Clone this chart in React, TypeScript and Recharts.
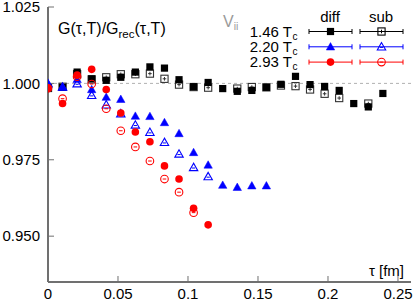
import React from 'react'
import { ScatterChart, Scatter, XAxis, YAxis, ReferenceLine, Legend } from 'recharts'

// Euclidean time points (fm)
const tau = [
  0, 0.0104, 0.0208, 0.0312, 0.0416, 0.052, 0.0624, 0.0728, 0.0832, 0.0936, 0.104, 0.1144,
  0.1248, 0.1352, 0.1456, 0.156, 0.1664, 0.1768, 0.1872, 0.1976, 0.208, 0.2184, 0.2288, 0.2392,
]

// G/G_rec, 1.46 Tc
const diff146 = [
  0.9985, 0.9987, 1.0037, 1.0015, 1.001, 1.002, 1.0037, 1.0054, 1.005, 1.0012, 0.9989, 1.0003,
  0.9983, 0.9974, 0.9977, 0.9987, 0.9997, 1.0023, 0.9996, 0.999, 0.9977, 0.9934, 0.9923, 0.9967,
]
const sub146 = [
  0.9985, 0.9989, 1.003, 1.0013, 1.002, 1.003, 1.003, 1.0032, 1.0015, 0.9996, 0.9988, 0.9986,
  null, 0.9983, 0.9988, 0.9987, 0.9993, 0.9991, 0.998, 0.9966, 0.9952, null, 0.9934, null,
]

// 2.20 Tc
const diff220 = [
  0.9999, 0.9988, 1.0013, 0.998, 0.9955, 0.9948, 0.9893, 0.9892, 0.9872, 0.9836, 0.9774, 0.9733,
  0.9667, 0.966, 0.9665, 0.9665,
]
const sub220 = [
  0.9999, 0.9988, 0.9999, 0.9961, 0.993, 0.9901, 0.9864, 0.984, 0.9807, 0.9769, 0.9725, 0.9695,
]

// 2.93 Tc
const diff293 = [
  0.9984, 0.9934, 1.0027, 1.0046, 0.998, 0.9903, 0.9841, 0.9809, 0.973, 0.9687, 0.9591, 0.9537,
]
const sub293 = [
  0.9984, 0.995, 1.0022, 0.9998, 0.9917, 0.9845, 0.9792, 0.9746, 0.9687, 0.9644, 0.9577,
]

const xMajor = [0, 0.05, 0.1, 0.15, 0.2, 0.25]
const xMinor = [
  0.01, 0.02, 0.03, 0.04, 0.06, 0.07, 0.08, 0.09, 0.11, 0.12, 0.13, 0.14, 0.16, 0.17, 0.18, 0.19,
  0.21, 0.22, 0.23, 0.24,
]
const yMajor = [0.95, 0.975, 1.0, 1.025]
const yMinor = [
  0.94, 0.945, 0.955, 0.96, 0.965, 0.97, 0.98, 0.985, 0.99, 0.995, 1.005, 1.01, 1.015, 1.02,
]

const X_DOMAIN: [number, number] = [0, 0.2593]
const Y_DOMAIN: [number, number] = [0.935, 1.025]

const FONT = '"Liberation Sans", Arial, Helvetica, sans-serif'
const AXIS = '#707070'
const BLACK = '#000000'
const BLUE = '#0000ff'
const RED = '#ff0000'

type Pt = { tau: number; g: number }
const toPoints = (vals: (number | null)[]): Pt[] =>
  vals.flatMap((g, i) => (g == null ? [] : [{ tau: tau[i], g }]))

type Kind = 'square' | 'triangle' | 'circle'

function drawMarker(kind: Kind, color: string, open: boolean, cx: number, cy: number) {
  const fill = open ? 'none' : color
  const sw = open ? 1.1 : 0
  if (kind === 'square') {
    return (
      <g>
        <rect x={cx - 3.6} y={cy - 3.6} width={7.2} height={7.2} fill={fill} stroke={color} strokeWidth={sw} />
        {open && <line x1={cx - 1.8} x2={cx + 1.8} y1={cy} y2={cy} stroke={color} strokeWidth={1} />}
        {open && <line x1={cx} x2={cx} y1={cy - 1.8} y2={cy + 1.8} stroke={color} strokeWidth={1} />}
      </g>
    )
  }
  if (kind === 'triangle') {
    const pts = `${cx},${cy - 4.2} ${cx - 4.2},${cy + 3.2} ${cx + 4.2},${cy + 3.2}`
    return (
      <g>
        <polygon points={pts} fill={fill} stroke={color} strokeWidth={open ? 1.1 : 0.5} />
        {open && <line x1={cx - 1.6} x2={cx + 1.6} y1={cy + 0.6} y2={cy + 0.6} stroke={color} strokeWidth={1} />}
      </g>
    )
  }
  return (
    <g>
      <circle cx={cx} cy={cy} r={3.8} fill={fill} stroke={color} strokeWidth={sw} />
      {open && <line x1={cx - 1.8} x2={cx + 1.8} y1={cy} y2={cy} stroke={color} strokeWidth={1} />}
    </g>
  )
}

const shape = (kind: Kind, color: string, open: boolean) => (p: any) =>
  drawMarker(kind, color, open, p.cx, p.cy)

const legendRows: { label: string; kind: Kind; color: string }[] = [
  { label: '1.46 T', kind: 'square', color: BLACK },
  { label: '2.20 T', kind: 'triangle', color: BLUE },
  { label: '2.93 T', kind: 'circle', color: RED },
]

function Annotations() {
  return (
    <svg width={415} height={304} style={{ display: 'block', fontFamily: FONT }}>
      <text x={58} y={34} fontSize={16} fill="#000">
        G(τ,T)/G
        <tspan fontSize={11.5} dy={4}>rec</tspan>
        <tspan dy={-4}>(τ,T)</tspan>
      </text>
      <text x={223} y={27} fontSize={16} fill="#9a9a9a">
        V<tspan fontSize={10.5} dy={3}>ii</tspan>
      </text>
      <text x={330} y={22} fontSize={15} textAnchor="middle" fill="#000">diff</text>
      <text x={381} y={22} fontSize={15} textAnchor="middle" fill="#000">sub</text>
      {legendRows.map((r, i) => {
        const y = 31.5 + i * 15.3
        return (
          <g key={r.label}>
            <text x={292} y={y + 5} fontSize={15} textAnchor="end" fill="#000">
              {r.label}
            </text>
            <text x={292.5} y={y + 8} fontSize={10} fill="#000">c</text>
            {[309, 360].map((x0, j) => (
              <g key={j}>
                <line x1={x0} x2={x0 + 43} y1={y} y2={y} stroke={r.color} strokeWidth={1} />
                <line x1={x0} x2={x0} y1={y - 2.5} y2={y + 2.5} stroke={r.color} strokeWidth={1} />
                <line x1={x0 + 43} x2={x0 + 43} y1={y - 2.5} y2={y + 2.5} stroke={r.color} strokeWidth={1} />
                {drawMarker(r.kind, r.color, j === 1, x0 + 21.5, y)}
              </g>
            ))}
          </g>
        )
      })}
      <text x={404} y={276} fontSize={15} textAnchor="end" fill="#000">τ [fm]</text>
    </svg>
  )
}

const tickFont = { fontSize: 15, fill: '#000', fontFamily: FONT }

export default function App() {
  return (
    <div style={{ position: 'absolute', left: 0, top: 0, width: 415, height: 304, background: '#fff' }}>
      <ScatterChart width={415} height={304} margin={{ top: 7, right: 4, bottom: 0, left: 0 }}>
        {/* minor ticks first so they sit right on the frame */}
        <XAxis xAxisId="xm" type="number" orientation="bottom" domain={X_DOMAIN} allowDataOverflow
          ticks={xMinor} interval={0} height={0} tick={false} axisLine={false} tickSize={-3}
          tickLine={{ stroke: AXIS }} />
        <XAxis xAxisId="x" dataKey="tau" type="number" orientation="bottom" domain={X_DOMAIN} allowDataOverflow
          ticks={xMajor} interval={0} height={22} tickSize={-6} tickMargin={12}
          tickFormatter={(v: number) => String(v)} tick={tickFont}
          axisLine={{ stroke: AXIS, strokeWidth: 2 }} tickLine={{ stroke: AXIS }} />
        <XAxis xAxisId="xtm" type="number" orientation="top" domain={X_DOMAIN} allowDataOverflow
          ticks={xMinor} interval={0} height={0} tick={false} axisLine={false} tickSize={-3}
          tickLine={{ stroke: AXIS }} />
        <XAxis xAxisId="xt" type="number" orientation="top" domain={X_DOMAIN} allowDataOverflow
          ticks={xMajor} interval={0} height={0} tick={false} tickSize={-6}
          axisLine={{ stroke: AXIS, strokeWidth: 1.5 }} tickLine={{ stroke: AXIS }} />

        <YAxis yAxisId="ym" type="number" orientation="left" domain={Y_DOMAIN} allowDataOverflow
          ticks={yMinor} interval={0} width={0} tick={false} axisLine={false} tickSize={-3}
          tickLine={{ stroke: AXIS }} />
        <YAxis yAxisId="y" dataKey="g" type="number" orientation="left" domain={Y_DOMAIN} allowDataOverflow
          ticks={yMajor} interval={0} width={48} tickSize={-6} tickMargin={14}
          tickFormatter={(v: number) => v.toFixed(3)} tick={tickFont}
          axisLine={{ stroke: AXIS, strokeWidth: 2 }} tickLine={{ stroke: AXIS }} />
        <YAxis yAxisId="yrm" type="number" orientation="right" domain={Y_DOMAIN} allowDataOverflow
          ticks={yMinor} interval={0} width={0} tick={false} axisLine={false} tickSize={-3}
          tickLine={{ stroke: AXIS }} />
        <YAxis yAxisId="yr" type="number" orientation="right" domain={Y_DOMAIN} allowDataOverflow
          ticks={yMajor} interval={0} width={0} tick={false} tickSize={-6}
          axisLine={{ stroke: AXIS, strokeWidth: 1.5 }} tickLine={{ stroke: AXIS }} />

        <ReferenceLine xAxisId="x" yAxisId="y" y={1} stroke="#b0b0b0" strokeDasharray="3 3" strokeWidth={1} />

        <Scatter xAxisId="x" yAxisId="y" name="1.46 Tc sub" data={toPoints(sub146)}
          shape={shape('square', '#333333', true)} isAnimationActive={false} />
        <Scatter xAxisId="x" yAxisId="y" name="1.46 Tc diff" data={toPoints(diff146)}
          shape={shape('square', BLACK, false)} isAnimationActive={false} />
        <Scatter xAxisId="x" yAxisId="y" name="2.20 Tc sub" data={toPoints(sub220)}
          shape={shape('triangle', BLUE, true)} isAnimationActive={false} />
        <Scatter xAxisId="x" yAxisId="y" name="2.20 Tc diff" data={toPoints(diff220)}
          shape={shape('triangle', BLUE, false)} isAnimationActive={false} />
        <Scatter xAxisId="x" yAxisId="y" name="2.93 Tc sub" data={toPoints(sub293)}
          shape={shape('circle', RED, true)} isAnimationActive={false} />
        <Scatter xAxisId="x" yAxisId="y" name="2.93 Tc diff" data={toPoints(diff293)}
          shape={shape('circle', RED, false)} isAnimationActive={false} />

        <Legend layout="horizontal" verticalAlign="middle" content={() => <Annotations />}
          wrapperStyle={{ left: 0, top: 0, width: 415, height: 304, pointerEvents: 'none' }} />
      </ScatterChart>
    </div>
  )
}
